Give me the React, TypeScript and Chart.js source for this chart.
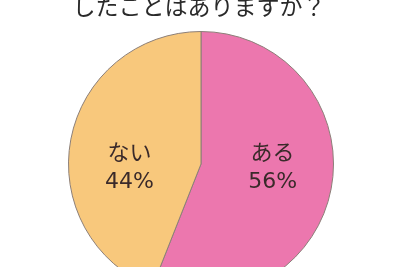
import React, { useEffect, useRef } from "react";
import { Chart, registerables } from "chart.js";

Chart.register(...registerables);

const titleText = "したことはありますか？";
const categories = ["ある", "ない"];
const values = [56, 44];
const colors = ["#EC77AE", "#F8C87C"];

const FONT = '"Noto Sans CJK JP", "Noto Sans", sans-serif';
const NUM_FONT = '"DejaVu Sans", "Noto Sans CJK JP", sans-serif';

const labelPlugin = {
  id: "sliceLabels",
  afterDatasetsDraw(chart: any) {
    const ctx = chart.ctx;
    const meta = chart.getDatasetMeta(0);
    const total = values.reduce((a, b) => a + b, 0);
    ctx.save();
    ctx.fillStyle = "#3a2a2a";
    ctx.textAlign = "center";
    ctx.textBaseline = "middle";
    meta.data.forEach((arc: any, i: number) => {
      const mid = (arc.startAngle + arc.endAngle) / 2;
      const r = arc.outerRadius * 0.55;
      const x = arc.x + Math.cos(mid) * r;
      const y = arc.y + 3;
      const pct = Math.round((values[i] / total) * 100) + "%";
      ctx.font = `22px ${FONT}`;
      ctx.fillText(categories[i], x, y - 15);
      ctx.font = `22px ${NUM_FONT}`;
      ctx.fillText(pct, x, y + 15);
    });
    ctx.restore();
  },
};

const titlePlugin = {
  id: "cutTitle",
  afterDraw(chart: any) {
    const ctx = chart.ctx;
    ctx.save();
    ctx.fillStyle = "#2a2a2a";
    ctx.textAlign = "center";
    ctx.textBaseline = "alphabetic";
    ctx.font = `23px ${FONT}`;
    ctx.fillText(titleText, 199, 15);
    ctx.restore();
  },
};

export default function App() {
  const ref = useRef<HTMLCanvasElement>(null);
  useEffect(() => {
    if (!ref.current) return;
    const chart = new Chart(ref.current, {
      type: "pie",
      data: {
        labels: categories,
        datasets: [
          {
            data: values,
            backgroundColor: colors,
            borderColor: "#8c7f78",
            borderWidth: 1,
          },
        ],
      },
      options: {
        animation: false,
        responsive: false,
        maintainAspectRatio: false,
        layout: { padding: { top: 31, bottom: 43, left: 68, right: 66 } },
        plugins: {
          legend: { display: false },
          tooltip: { enabled: false },
          title: { display: false },
        },
      },
      plugins: [labelPlugin, titlePlugin],
    });
    return () => chart.destroy();
  }, []);
  return (
    <div
      style={{
        position: "fixed",
        left: 0,
        top: 0,
        width: 400,
        height: 267,
        overflow: "hidden",
        background: "#ffffff",
      }}
    >
      <canvas ref={ref} width={400} height={340} style={{ display: "block" }} />
    </div>
  );
}
